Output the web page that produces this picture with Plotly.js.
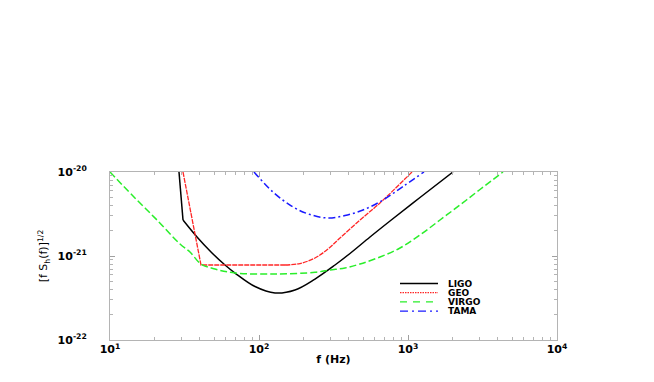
<!DOCTYPE html>
<html>
<head>
<meta charset="utf-8">
<script src="https://cdn.plot.ly/plotly-3.0.1.min.js"></script>
<style>html,body{margin:0;padding:0;background:#fff;}#chart{width:654px;height:382px;}</style>
</head>
<body>
<div id="chart"></div>
<script>
// ---- data (frequency in Hz, strain sensitivity [f S_h(f)]^1/2) ----
const ligoF  = [29.04, 30.90, 38.37, 47.64, 59.13, 69.02, 94.0, 128.1, 174.4, 237.6, 323.6, 408.0, 555.9, 757.2, 1203.6, 2004];
const ligoH  = [1.0e-20, 2.683e-21, 1.684e-21, 1.116e-21, 7.81e-22, 6.27e-22, 4.33e-22, 3.63e-22, 3.94e-22, 5.32e-22, 7.81e-22, 1.071e-21, 1.684e-21, 2.61e-21, 4.97e-21, 1.0e-20];

const geoF   = [30.90, 40.80, 149.5, 188.4, 237.6, 290.4, 349.6, 476.4, 648.7, 1063.6];
const geoH   = [1.0e-20, 7.81e-22, 7.81e-22, 8.14e-22, 9.47e-22, 1.211e-21, 1.638e-21, 2.683e-21, 4.28e-21, 1.0e-20];

const virgoF = [10, 14.27, 20.67, 29.50, 34.43, 40.80, 50.67, 69.02, 128.1, 237.6, 299.6, 377.7, 476.3, 648.9, 883.7, 1203.6, 1640, 2234, 3042, 4341];
const virgoH = [1.0e-20, 5.18e-21, 2.683e-21, 1.389e-21, 1.116e-21, 8.03e-22, 7.00e-22, 6.27e-22, 6.10e-22, 6.40e-22, 6.81e-22, 7.20e-22, 8.03e-22, 9.73e-22, 1.245e-21, 1.778e-21, 2.683e-21, 4.05e-21, 6.19e-21, 1.0e-20];

const tamaF  = [92.55, 124.2, 169.1, 219.9, 290.4, 377.7, 498.9, 679.6, 925.5, 1280.6];
const tamaH  = [1.0e-20, 5.78e-21, 3.83e-21, 3.12e-21, 2.833e-21, 3.03e-21, 3.53e-21, 4.64e-21, 6.72e-21, 1.0e-20];

const seriesNames = ["LIGO", "GEO", "VIRGO", "TAMA"];

const xTickVals = [10, 100, 1000, 10000];
const xTickText = ["10<sup>1</sup>", "10<sup>2</sup>", "10<sup>3</sup>", "10<sup>4</sup>"];
const yTickVals = [1e-22, 1e-21, 1e-20];
const yTickText = ["10<sup>-22</sup>", "10<sup>-21</sup>", "10<sup>-20</sup>"];

// minor tick positions: 2..9 within each decade of the axis
function minorTicks(decadeStarts) {
  const out = [];
  decadeStarts.forEach(d => { for (let k = 2; k <= 9; k++) out.push(d * k); });
  return out;
}
const xMinor = minorTicks([10, 100, 1000]);
const yMinor = minorTicks([1e-22, 1e-21]);

// ---- styles ----
const FONT = "DejaVu Sans, Verdana, sans-serif";
const styles = [
  {color: "#000000", width: 1.5, dash: "solid",           legendDash: "solid"},
  {color: "#ff2626", width: 1.3, dash: "5px,1px",         legendDash: "1.5px,1px"},
  {color: "#2aee2a", width: 1.5, dash: "7px,3px",         legendDash: "7px,6px"},
  {color: "#1a1aff", width: 1.5, dash: "7px,3px,2px,3px", legendDash: "8px,4px,2px,4px"}
];

function line(i, shape) {
  return {color: styles[i].color, width: styles[i].width, dash: styles[i].dash, shape: shape, smoothing: 1};
}

const traces = [
  {type: "scatter", mode: "lines", name: "LIGO", x: ligoF.slice(0, 2), y: ligoH.slice(0, 2), line: line(0, "linear")},
  {type: "scatter", mode: "lines", name: "LIGO", x: ligoF.slice(1),    y: ligoH.slice(1),    line: line(0, "spline")},
  {type: "scatter", mode: "lines", name: "GEO",  x: geoF.slice(0, 3),  y: geoH.slice(0, 3),  line: line(1, "linear")},
  {type: "scatter", mode: "lines", name: "GEO",  x: geoF.slice(2),     y: geoH.slice(2),     line: line(1, "spline")},
  {type: "scatter", mode: "lines", name: "VIRGO", x: virgoF, y: virgoH, line: line(2, "spline")},
  {type: "scatter", mode: "lines", name: "TAMA",  x: tamaF,  y: tamaH,  line: line(3, "spline")}
];
traces.forEach(t => t.showlegend = false);

// ---- manual legend (shapes + annotations) ----
const L = 110, R = 557, T = 172, B = 340;
const px = v => (v - L) / (R - L);
const py = v => (B - v) / (B - T);
const rowY = [283.5, 292.7, 301.9, 311.1];
const shapes = [], annotations = [];
seriesNames.forEach((n, i) => {
  shapes.push({type: "line", xref: "paper", yref: "paper",
    x0: px(400), x1: px(438), y0: py(rowY[i]), y1: py(rowY[i]),
    line: {color: styles[i].color, width: 1.3, dash: styles[i].legendDash}});
  annotations.push({xref: "paper", yref: "paper", x: px(447), y: py(rowY[i]),
    xanchor: "left", yanchor: "middle", showarrow: false, text: n, borderpad: 0,
    font: {family: FONT, size: 9, color: "#000", weight: "bold"}});
});

const axisCommon = {
  type: "log", showgrid: false, zeroline: false,
  showline: true, linecolor: "#b4b4b4", linewidth: 1, mirror: "ticks",
  ticks: "inside", ticklen: 5, tickcolor: "#a0a0a0", tickwidth: 1,
  tickfont: {family: FONT, size: 11, color: "#000", weight: "bold"}
};

const layout = {
  width: 654, height: 382,
  margin: {l: L, r: 654 - R, t: T, b: 382 - B},
  paper_bgcolor: "#fff", plot_bgcolor: "#fff",
  showlegend: false,
  xaxis: Object.assign({}, axisCommon, {
    range: [1, 4], tickmode: "array", tickvals: xTickVals, ticktext: xTickText,
    ticklabelstandoff: -1,
    minor: {tickmode: "array", tickvals: xMinor, ticks: "inside", ticklen: 3, tickcolor: "#b4b4b4", tickwidth: 1, showgrid: false},
    title: {text: "f (Hz)", standoff: 0, font: {family: FONT, size: 11, color: "#000", weight: "bold"}}
  }),
  yaxis: Object.assign({}, axisCommon, {
    range: [-22, -20], tickmode: "array", tickvals: yTickVals, ticktext: yTickText,
    ticklabelstandoff: 20,
    minor: {tickmode: "array", tickvals: yMinor, ticks: "inside", ticklen: 3, tickcolor: "#b4b4b4", tickwidth: 1, showgrid: false},
    title: {text: "[f S<sub>h</sub>(f)]<sup>1/2</sup>", standoff: 7, font: {family: FONT, size: 11, color: "#000"}}
  }),
  shapes: shapes, annotations: annotations
};

Plotly.newPlot("chart", traces, layout, {displayModeBar: false, staticPlot: true});
</script>
</body>
</html>
